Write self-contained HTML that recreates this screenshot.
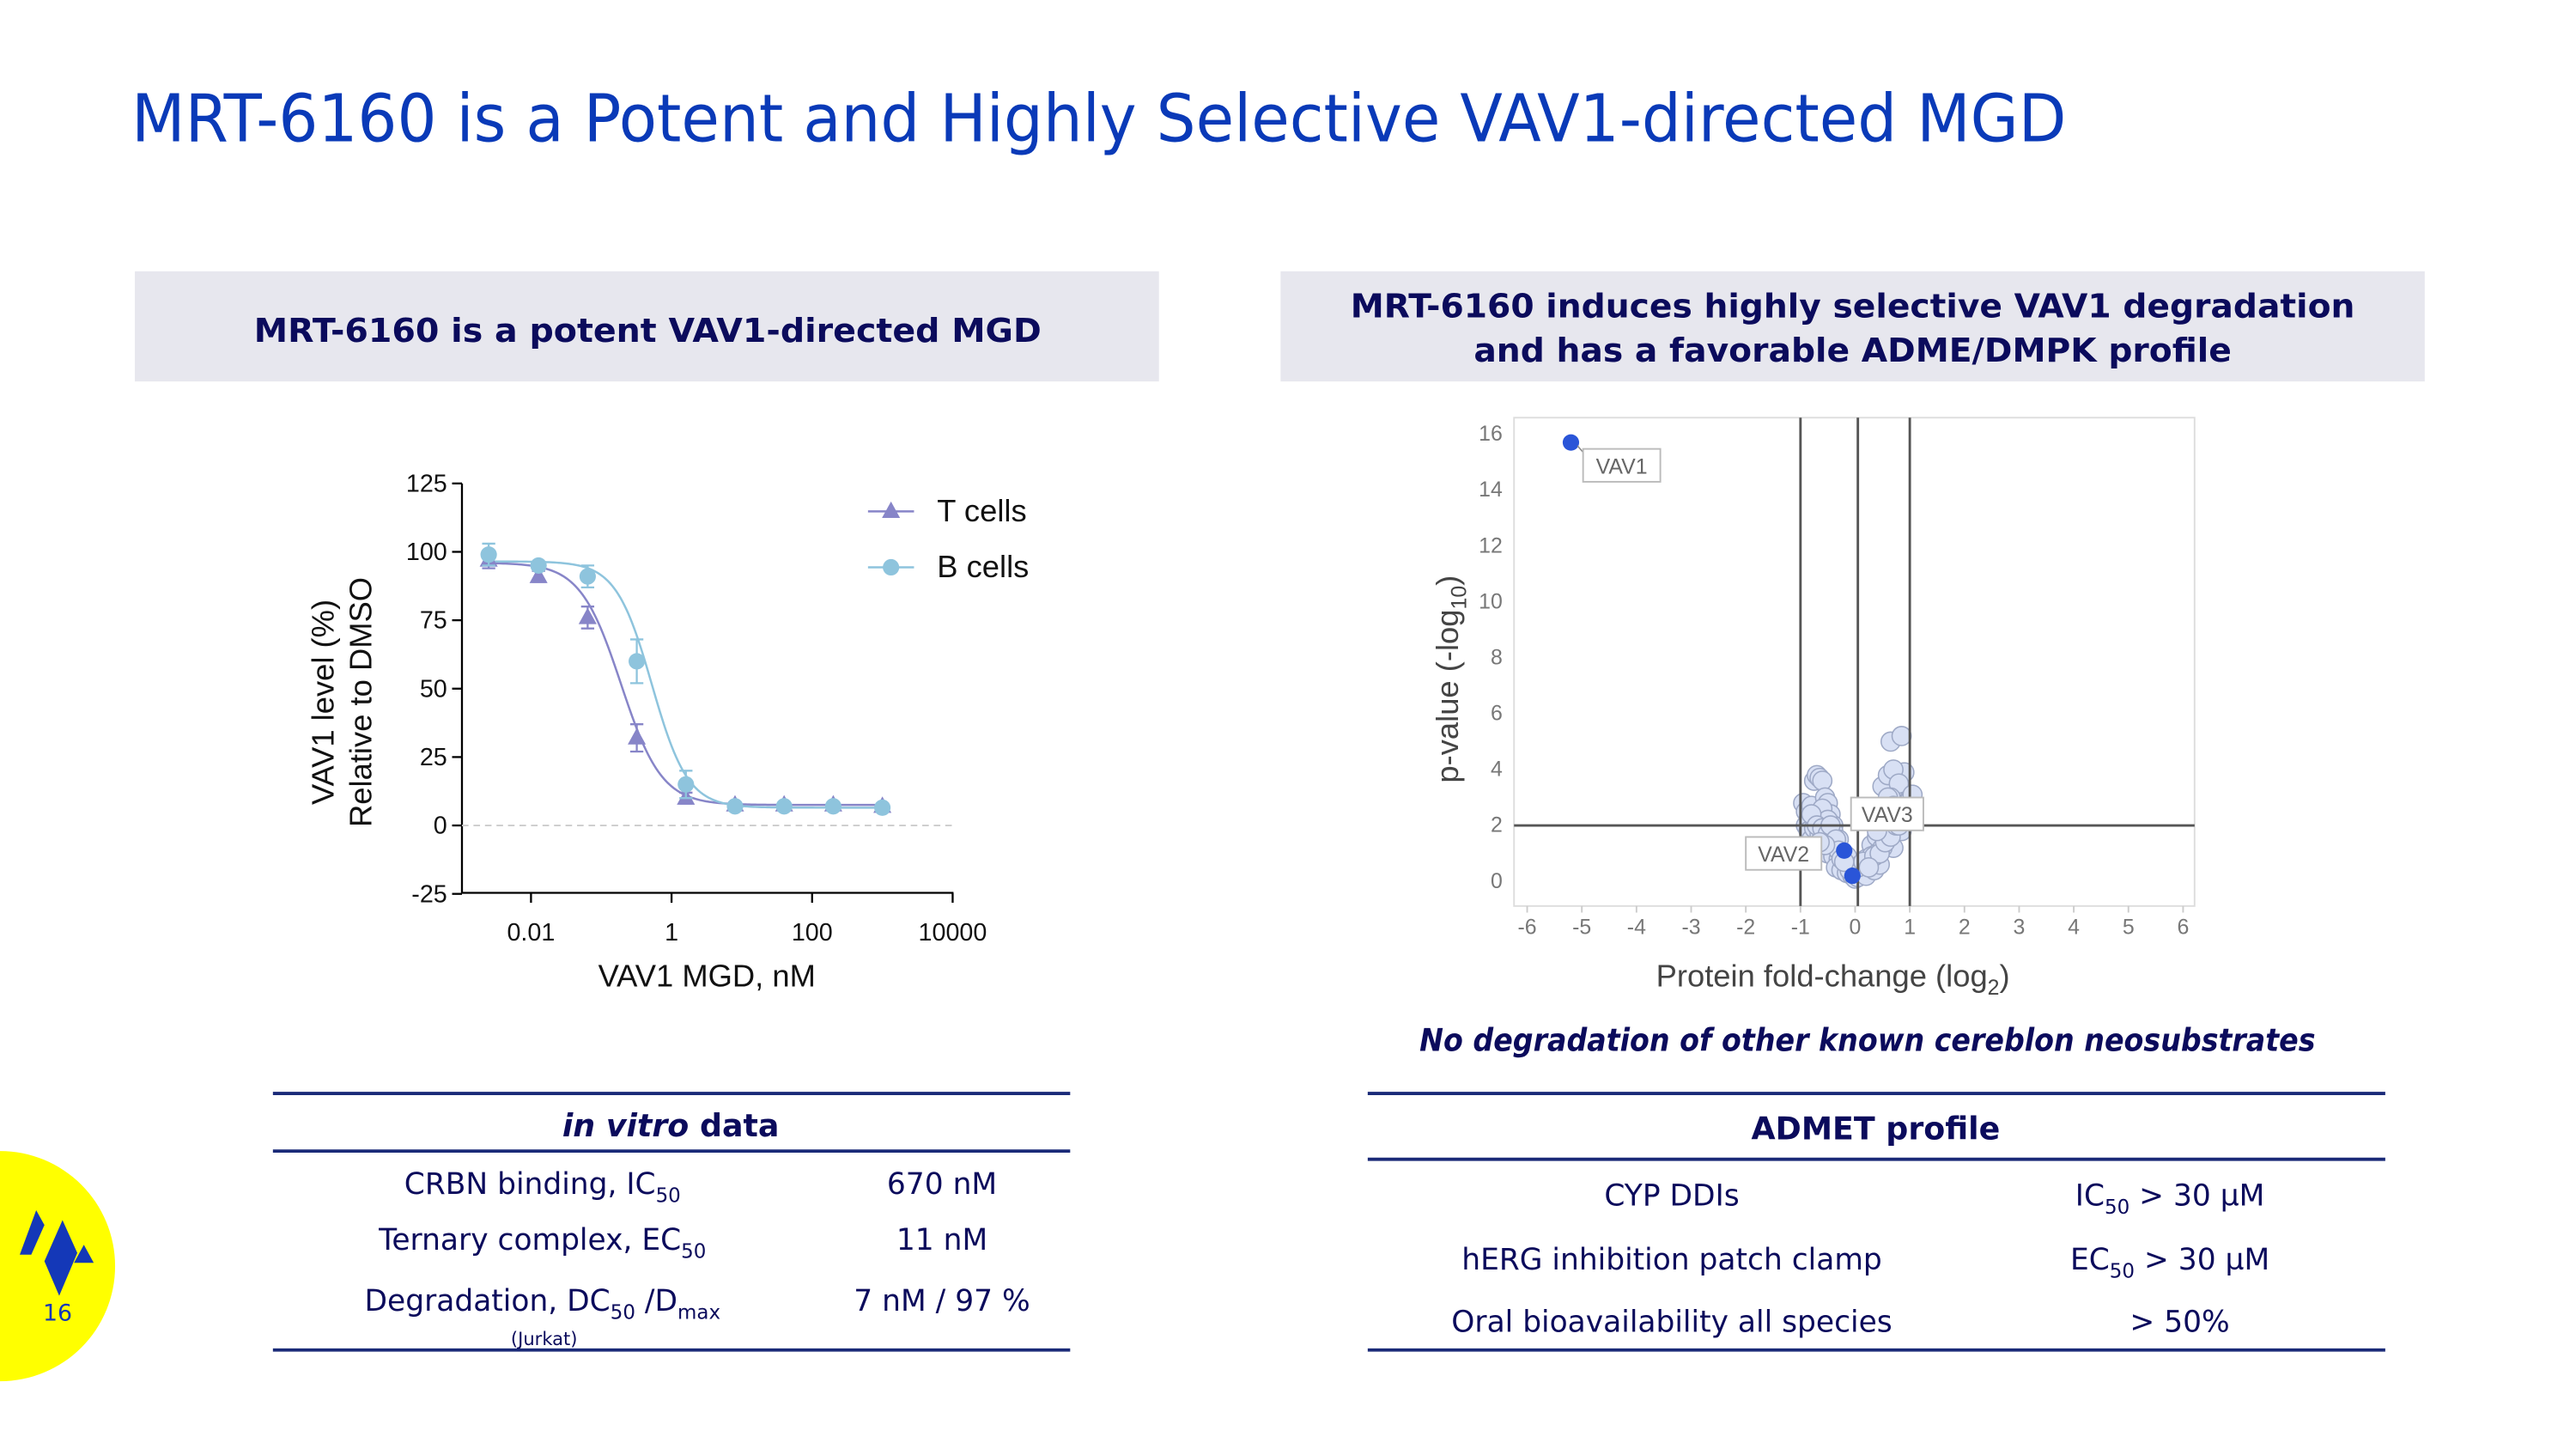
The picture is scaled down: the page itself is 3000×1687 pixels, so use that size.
<!DOCTYPE html>
<html><head><meta charset="utf-8"><style>
html,body{margin:0;padding:0;background:#fff;}
svg{display:block;}
text{font-family:"DejaVu Sans","Liberation Sans",sans-serif;}
.ar{font-family:"Liberation Sans",Arial,sans-serif;}
</style></head><body>
<svg id="slide" width="3000" height="1687" viewBox="0 0 1567 881.2" xmlns="http://www.w3.org/2000/svg">
<rect width="1567" height="882" fill="#fff"/>
<text x="80" y="86" font-size="40" fill="#0a3ab8" textLength="1177" lengthAdjust="spacingAndGlyphs">MRT-6160 is a Potent and Highly Selective VAV1-directed MGD</text>

<rect x="82" y="165" width="623" height="67" fill="#e7e7ee"/>
<text x="394" y="208" font-size="20" font-weight="bold" fill="#0b0b5c" text-anchor="middle" textLength="479" lengthAdjust="spacingAndGlyphs">MRT-6160 is a potent VAV1-directed MGD</text>
<rect x="779" y="165" width="696" height="67" fill="#e7e7ee"/>
<text x="1127" y="193" font-size="20" font-weight="bold" fill="#0b0b5c" text-anchor="middle" textLength="611" lengthAdjust="spacingAndGlyphs">MRT-6160 induces highly selective VAV1 degradation</text>
<text x="1127" y="220" font-size="20" font-weight="bold" fill="#0b0b5c" text-anchor="middle" textLength="461" lengthAdjust="spacingAndGlyphs">and has a favorable ADME/DMPK profile</text>

<g id="doseChart"></g>
<g id="volcano"></g>

<text x="1136" y="639" font-size="19" font-weight="bold" font-style="italic" fill="#0b0b5c" text-anchor="middle" textLength="545" lengthAdjust="spacingAndGlyphs">No degradation of other known cereblon neosubstrates</text>

<g fill="#0b0b5c">
<line x1="166" y1="665" x2="651" y2="665" stroke="#1a2a78" stroke-width="2"/>
<line x1="166" y1="700" x2="651" y2="700" stroke="#1a2a78" stroke-width="2"/>
<line x1="166" y1="821" x2="651" y2="821" stroke="#1a2a78" stroke-width="2"/>
<text x="408" y="691" font-size="19" font-weight="bold" text-anchor="middle"><tspan font-style="italic">in vitro</tspan> data</text>
<text x="330" y="726" font-size="18" text-anchor="middle">CRBN binding, IC<tspan font-size="12" dy="5">50</tspan></text>
<text x="573" y="726" font-size="18" text-anchor="middle">670 nM</text>
<text x="330" y="760" font-size="18" text-anchor="middle">Ternary complex, EC<tspan font-size="12" dy="5">50</tspan></text>
<text x="573" y="760" font-size="18" text-anchor="middle">11 nM</text>
<text x="330" y="797" font-size="18" text-anchor="middle">Degradation, DC<tspan font-size="12" dy="5">50</tspan><tspan dy="-5"> /D</tspan><tspan font-size="12" dy="5">max</tspan></text>
<text x="573" y="797" font-size="18" text-anchor="middle">7 nM / 97 %</text>
<text x="331" y="818" font-size="11" text-anchor="middle">(Jurkat)</text>
</g>

<g fill="#0b0b5c">
<line x1="832" y1="665" x2="1451" y2="665" stroke="#1a2a78" stroke-width="2"/>
<line x1="832" y1="705" x2="1451" y2="705" stroke="#1a2a78" stroke-width="2"/>
<line x1="832" y1="821" x2="1451" y2="821" stroke="#1a2a78" stroke-width="2"/>
<text x="1141" y="693" font-size="19" font-weight="bold" text-anchor="middle">ADMET profile</text>
<text x="1017" y="733" font-size="18" text-anchor="middle">CYP DDIs</text>
<text x="1320" y="733" font-size="18" text-anchor="middle">IC<tspan font-size="12" dy="5">50</tspan><tspan dy="-5"> &gt; 30 µM</tspan></text>
<text x="1017" y="772" font-size="18" text-anchor="middle">hERG inhibition patch clamp</text>
<text x="1320" y="772" font-size="18" text-anchor="middle">EC<tspan font-size="12" dy="5">50</tspan><tspan dy="-5"> &gt; 30 µM</tspan></text>
<text x="1017" y="810" font-size="18" text-anchor="middle">Oral bioavailability all species</text>
<text x="1326" y="810" font-size="18" text-anchor="middle">&gt; 50%</text>
</g>

<g>
<circle cx="0" cy="770" r="70" fill="#ffff00"/>
<polygon points="22,736 12,763 19,763 27,745" fill="#1438b8"/>
<polygon points="38,742 27,767 36,788 47,762" fill="#1438b8"/>
<polygon points="51,757 45,768 57,768" fill="#1438b8"/>
<text x="35" y="803" font-size="14" fill="#1438b8" text-anchor="middle">16</text>
</g>
</svg>

<script>
// ---------- Dose-response data ----------
const concNM = [0.0025, 0.0128, 0.064, 0.32, 1.6, 8, 40, 200, 1000];
const tCells = [97, 91, 76, 32, 10, 7.5, 7.5, 7.5, 7];
const tErr = [3, 2, 4, 5, 2, 1, 1, 1, 1];
const bCells = [99, 95, 91, 60, 15, 7, 7, 7, 6.5];
const bErr = [4, 1, 4, 8, 5, 1, 1, 1, 1];
const tFit = [96, 7.5, -0.72, 1.5]; // top, bottom, logIC50, hill
const bFit = [96.5, 6.5, -0.28, 1.7];
const doseYTicks = [125, 100, 75, 50, 25, 0, -25];
const doseXTicks = ["0.01", "1", "100", "10000"];

// ---------- Volcano data ----------
const volcXTicks = [-6,-5,-4,-3,-2,-1,0,1,2,3,4,5,6];
const volcYTicks = [0,2,4,6,8,10,12,14,16];
const highlightX = [-5.2, -0.2, -0.05];
const highlightY = [15.7, 1.1, 0.2];
const bgX = [-0.95,-0.9,-0.85,-0.8,-0.75,-0.7,-0.65,-0.6,-0.55,-0.5,-0.45,-0.4,-0.9,-0.85,-0.8,-0.7,-0.6,-0.5,-0.4,-0.3,-0.75,-0.65,-0.55,-0.45,-0.35,-0.25,-0.15,-0.6,-0.5,-0.4,-0.3,-0.2,-0.1,-0.35,-0.25,-0.15,-0.05,0.0,0.05,0.1,0.15,0.2,0.25,0.3,0.35,0.4,0.45,0.5,0.55,0.6,0.65,0.7,0.75,0.8,0.85,0.9,0.95,1.0,0.3,0.4,0.5,0.6,0.7,0.8,0.9,0.5,0.6,0.7,0.8,0.55,0.65,0.75,0.85,0.6,0.7,0.65,0.85,0.1,0.2,0.3,0.4,0.5,0.2,0.35,0.45,-0.1,0.05,0.15,-0.8,-0.7,-0.6,-0.5,-0.45,-0.35,-0.3,-0.25,-0.2,-0.55,-0.65,0.35,0.45,0.55,0.65,0.75,0.85,0.25,0.4,0.5,0.6,0.7,0.8,0.9,1.05];
const bgY = [2.8,2.5,2.2,2.7,3.6,3.8,3.7,3.6,3.0,2.8,2.4,2.0,2.0,1.8,1.5,2.3,2.6,2.2,1.8,1.5,1.9,1.7,1.6,1.4,1.2,1.0,0.9,1.1,1.0,0.9,0.8,0.6,0.5,0.5,0.4,0.3,0.2,0.1,0.15,0.3,0.4,0.5,0.7,0.9,1.1,1.3,1.5,1.7,1.9,2.1,2.3,2.5,2.8,2.9,3.1,3.2,3.0,2.9,1.3,1.6,2.2,2.6,3.3,3.6,3.9,3.4,3.8,4.0,3.5,2.7,3.0,2.2,1.8,1.5,1.2,5.0,5.2,0.6,0.8,0.9,1.0,1.2,0.2,0.4,0.6,0.4,0.5,0.7,2.4,2.0,1.9,1.7,2.0,1.5,1.1,0.8,0.7,1.3,1.4,0.9,1.0,1.4,1.6,2.0,2.4,0.5,1.8,2.5,3.0,2.7,2.0,2.6,3.1];

const NS = "http://www.w3.org/2000/svg";
function mk(parent, tag, attrs, txt){
  const e = document.createElementNS(NS, tag);
  for (const k in attrs) e.setAttribute(k, attrs[k]);
  if (txt !== undefined) e.textContent = txt;
  parent.appendChild(e); return e;
}

// ---------- Dose-response chart ----------
(function(){
  const g = document.getElementById('doseChart');
  const X0 = 281, X1 = 580, Y0 = 543, Y1 = 294;
  const xs = c => 408.5 + (Math.log10(c)) * 42.75;
  const ys = v => 502 - v * (208 / 125);
  const tc = "#8785c8", bc = "#8ec4dd";
  let e = mk(g,'line',{x1:X0,y1:Y1,x2:X0,y2:Y0,stroke:'#000','stroke-width':1.2});
   
  e = mk(g,'line',{x1:X0,y1:Y0,x2:X1,y2:Y0,stroke:'#000','stroke-width':1.2});
   
  e = mk(g,'line',{x1:X0,y1:ys(0),x2:X1,y2:ys(0),stroke:'#ccc','stroke-width':1,'stroke-dasharray':'4,3'});
   
  doseYTicks.forEach(v=>{
    mk(g,'line',{x1:X0-6,y1:ys(v),x2:X0,y2:ys(v),stroke:'#000','stroke-width':1.2});
    const t = mk(g,'text',{x:X0-9,y:ys(v)+5,'font-size':15,'text-anchor':'end',class:'ar',fill:'#111'},String(v));
     
  });
  doseXTicks.forEach(s=>{
    const x = xs(parseFloat(s));
    mk(g,'line',{x1:x,y1:Y0,x2:x,y2:Y0+6,stroke:'#000','stroke-width':1.2});
    const t = mk(g,'text',{x:x,y:572,'font-size':15,'text-anchor':'middle',class:'ar',fill:'#111'},s);
     
  });
  e = mk(g,'text',{x:430,y:600,'font-size':19,'text-anchor':'middle',class:'ar',fill:'#111'},'VAV1 MGD, nM');
   
  e = mk(g,'text',{transform:'translate(203,427) rotate(-90)','font-size':19,'text-anchor':'middle',class:'ar',fill:'#111'},'VAV1 level (%)');
   
  e = mk(g,'text',{transform:'translate(226,427) rotate(-90)','font-size':19,'text-anchor':'middle',class:'ar',fill:'#111'},'Relative to DMSO');
   
  function curve(p, col, name){
    let d = '';
    for (let i=0;i<=200;i++){
      const lx = -2.65 + i*(3.0+2.65)/200;
      const v = p[1] + (p[0]-p[1])/(1+Math.pow(10,(lx-p[2])*p[3]));
      d += (i?'L':'M') + xs(Math.pow(10,lx)).toFixed(2) + ',' + ys(v).toFixed(2);
    }
    const c = mk(g,'path',{d:d,fill:'none',stroke:col,'stroke-width':1.3});
     
  }
  curve(tFit, tc, 't-cells-fit-curve');
  curve(bFit, bc, 'b-cells-fit-curve');
  concNM.forEach((c,i)=>{
    const x = xs(c);
    [[tCells,tErr,tc,'t'],[bCells,bErr,bc,'b']].forEach(([vals,err,col,k])=>{
      const y = ys(vals[i]), e1 = ys(vals[i]+err[i]), e2 = ys(vals[i]-err[i]);
      mk(g,'path',{d:`M${x},${e1}L${x},${e2}M${x-4},${e1}L${x+4},${e1}M${x-4},${e2}L${x+4},${e2}`,stroke:col,'stroke-width':1.2,fill:'none'});
      let m;
      if (k==='t'){
        m = mk(g,'polygon',{points:`${x},${y-6} ${x-5.5},${y+4} ${x+5.5},${y+4}`,fill:col});
        
      } else {
        m = mk(g,'circle',{cx:x,cy:y,r:5,fill:col});
        
      }
      
    });
  });
  e = mk(g,'line',{x1:528,y1:311,x2:556,y2:311,stroke:tc,'stroke-width':1.3});
  mk(g,'polygon',{points:'542,305 536.5,315 547.5,315',fill:tc});
  e = mk(g,'text',{x:570,y:317,'font-size':19,class:'ar',fill:'#111'},'T cells');
   
  mk(g,'line',{x1:528,y1:345,x2:556,y2:345,stroke:bc,'stroke-width':1.3});
  mk(g,'circle',{cx:542,cy:345,r:5,fill:bc});
  e = mk(g,'text',{x:570,y:351,'font-size':19,class:'ar',fill:'#111'},'B cells');
   
})();

// ---------- Volcano plot ----------
(function(){
  const g = document.getElementById('volcano');
  const xs = v => 1128.5 + v*33.25;
  const ys = v => 536 - v*17;
  let e = mk(g,'rect',{x:921,y:254,width:414,height:297,fill:'#fff',stroke:'#ddd','stroke-width':1});
   
  volcXTicks.forEach(v=>{
    mk(g,'line',{x1:xs(v),y1:551,x2:xs(v),y2:555,stroke:'#ccc','stroke-width':1});
    const t = mk(g,'text',{x:xs(v),y:568,'font-size':13,'text-anchor':'middle',class:'ar',fill:'#777'},String(v));
     
  });
  volcYTicks.forEach(v=>{
    const t = mk(g,'text',{x:914,y:ys(v)+4,'font-size':13,'text-anchor':'end',class:'ar',fill:'#777'},String(v));
     
  });
  bgX.forEach((x,i)=>{
    const c = mk(g,'circle',{cx:xs(x),cy:ys(bgY[i]),r:5.8,fill:'#d8e0f4',stroke:'#9ea9c6','stroke-width':0.8});
     
  });
  [[-1,'v-threshold-neg'],[0.05,'v-threshold-zero'],[1,'v-threshold-pos']].forEach(([v,n])=>{
    const l = mk(g,'line',{x1:xs(v),y1:254,x2:xs(v),y2:551,stroke:'#555','stroke-width':1.5});
     
  });
  e = mk(g,'line',{x1:921,y1:ys(2),x2:1335,y2:ys(2),stroke:'#555','stroke-width':1.5});
   
  highlightX.forEach((x,i)=>{
    const c = mk(g,'circle',{cx:xs(x),cy:ys(highlightY[i]),r:5,fill:'#2a55d8'});
     
  });
  mk(g,'line',{x1:xs(highlightX[0])+4,y1:ys(highlightY[0])+2,x2:963,y2:275,stroke:'#888','stroke-width':0.8});
  function lab(x,y,w,txt,n){
    mk(g,'rect',{x:x,y:y,width:w,height:20,fill:'#fff',stroke:'#bbb','stroke-width':1});
    const t = mk(g,'text',{x:x+w/2,y:y+15,'font-size':13,'text-anchor':'middle',class:'ar',fill:'#666'},txt);
     
  }
  lab(963,273,47,'VAV1','vav1-label');
  lab(1126,485,44,'VAV3','vav3-label');
  lab(1062,509,46,'VAV2','vav2-label');
  e = mk(g,'text',{x:1115,y:600,'font-size':19,'text-anchor':'middle',class:'ar',fill:'#444'});
   
  e.innerHTML = 'Protein fold-change (log<tspan font-size="13" dy="5">2</tspan><tspan dy="-5">)</tspan>';
  e = mk(g,'text',{transform:'translate(887,413) rotate(-90)','font-size':19,'text-anchor':'middle',class:'ar',fill:'#444'});
   
  e.innerHTML = 'p-value (-log<tspan font-size="13" dy="5">10</tspan><tspan dy="-5">)</tspan>';
})();
</script>
</body></html>
